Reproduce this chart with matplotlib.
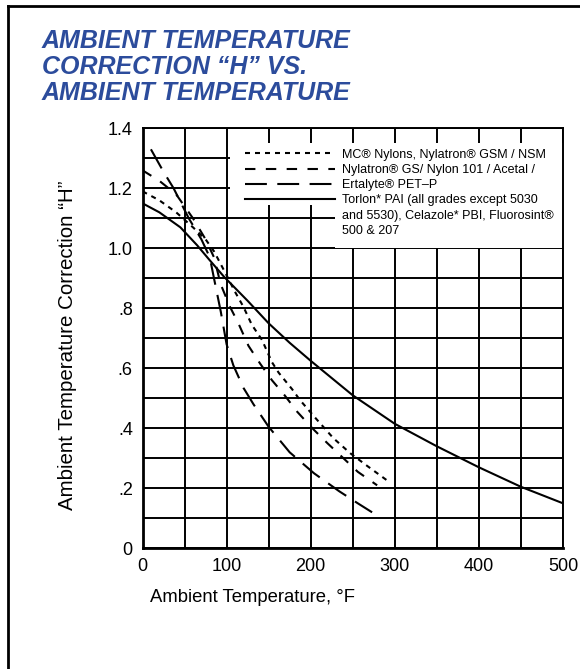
import numpy as np
import matplotlib
matplotlib.use("Agg")
import matplotlib.pyplot as plt
from matplotlib.lines import Line2D
from matplotlib.patches import Rectangle
from matplotlib.ticker import MultipleLocator, FixedLocator

plt.rcParams['font.family'] = ['Liberation Sans', 'DejaVu Sans']

# curves (temperature in °F, correction factor H)
mc_temp = [0, 20, 40, 60, 75, 85, 100, 110, 120, 130, 142, 154, 162, 178, 187, 207, 227, 247, 267, 290]
mc_h = [1.19, 1.16, 1.12, 1.07, 1.03, 0.99, 0.91, 0.855, 0.805, 0.745, 0.695, 0.62, 0.585, 0.53, 0.495, 0.43, 0.367, 0.317, 0.275, 0.228]

gs_temp = [0, 20, 40, 60, 75, 85, 93, 104, 114, 126, 140, 154, 169, 184, 202, 220, 239, 256, 279]
gs_h = [1.26, 1.225, 1.18, 1.1, 1.03, 0.97, 0.88, 0.805, 0.75, 0.675, 0.615, 0.56, 0.51, 0.455, 0.4, 0.35, 0.3, 0.255, 0.21]

pet_temp = [10, 25, 37, 55, 70, 80, 85, 93, 100, 108, 120, 132, 150, 175, 204, 234, 256, 273]
pet_h = [1.33, 1.255, 1.2, 1.1, 1.03, 0.97, 0.9, 0.79, 0.68, 0.61, 0.535, 0.48, 0.405, 0.32, 0.25, 0.19, 0.15, 0.12]

pai_temp = [0, 20, 45, 65, 80, 97, 125, 150, 175, 200, 250, 300, 350, 400, 450, 500]
pai_h = [1.15, 1.12, 1.07, 1.01, 0.96, 0.905, 0.825, 0.75, 0.685, 0.625, 0.51, 0.415, 0.34, 0.27, 0.205, 0.15]

labels = ["MC® Nylons, Nylatron® GSM / NSM",
          "Nylatron® GS/ Nylon 101 / Acetal /",
          "Ertalyte® PET–P",
          "Torlon* PAI (all grades except 5030",
          "and 5530), Celazole* PBI, Fluorosint®",
          "500 & 207"]

x_ticks = [0, 100, 200, 300, 400, 500]
y_ticks = [0, 0.2, 0.4, 0.6, 0.8, 1.0, 1.2, 1.4]
y_ticklabels = ["0", ".2", ".4", ".6", ".8", "1.0", "1.2", "1.4"]

title_color = "#2c4c9c"

fig = plt.figure(figsize=(5.8, 6.69), dpi=100)
ax = fig.add_axes([0.2457, 0.1804, 0.7250, 0.6278])

lw = 1.5
ax.plot(mc_temp, mc_h, color="black", lw=lw, dashes=(2.4, 2.4))
ax.plot(gs_temp, gs_h, color="black", lw=lw, dashes=(5.0, 5.0))
ax.plot(pet_temp, pet_h, color="black", lw=lw, dashes=(10.5, 5.0))
ax.plot(pai_temp, pai_h, color="black", lw=lw)

ax.set_xlim(0, 500)
ax.set_ylim(0, 1.4)
ax.xaxis.set_major_locator(FixedLocator(x_ticks))
ax.xaxis.set_minor_locator(MultipleLocator(50))
ax.yaxis.set_major_locator(FixedLocator(y_ticks))
ax.set_yticklabels(y_ticklabels)
ax.yaxis.set_minor_locator(MultipleLocator(0.1))
ax.grid(which="both", color="black", lw=1.4)
ax.set_axisbelow(True)
ax.tick_params(which="both", length=0, labelsize=13, pad=7)

for side in ["top", "right"]:
    ax.spines[side].set_linewidth(1.4)
for side in ["left", "bottom"]:
    ax.spines[side].set_linewidth(2.0)

ax.set_xlabel("Ambient Temperature, °F", fontsize=13.3, ha="left")
ax.xaxis.set_label_coords(0.018, -0.097)
ax.set_ylabel("Ambient Temperature Correction “H”", fontsize=14.8)
ax.yaxis.set_label_coords(-0.156, 0.484)

# white L-shaped backing behind the legend (samples block + text block)
ax.add_patch(Rectangle((0.208, 0.817), 0.252, 0.148, transform=ax.transAxes,
                       facecolor="white", edgecolor="none", zorder=1.5))
ax.add_patch(Rectangle((0.458, 0.715), 0.542, 0.250, transform=ax.transAxes,
                       facecolor="white", edgecolor="none", zorder=1.5))

# legend: four line samples, last label runs over three rows
handles = [Line2D([], [], color="black", lw=lw, dashes=(2.4, 2.4)),
           Line2D([], [], color="black", lw=lw, dashes=(5.0, 5.0)),
           Line2D([], [], color="black", lw=lw, dashes=(10.5, 5.0)),
           Line2D([], [], color="black", lw=lw),
           Line2D([], [], color="none"),
           Line2D([], [], color="none")]
leg = ax.legend(handles, labels, loc="upper right", bbox_to_anchor=(0.992, 0.965),
                borderaxespad=0, fontsize=9, frameon=False,
                handlelength=7.2, handletextpad=0.6, labelspacing=0.26,
                borderpad=0.45)
leg.set_zorder(5)

fig.text(0.072, 1 - 29 / 669, "AMBIENT TEMPERATURE\nCORRECTION “H” VS.\nAMBIENT TEMPERATURE",
         color=title_color, fontsize=18, fontweight="bold", fontstyle="italic",
         va="top", ha="left", linespacing=1.1)

# page frame, running off the right and bottom edges
fig.add_artist(Line2D([0.0138, 0.0138], [-0.1, 0.991], color="black", lw=2, transform=fig.transFigure))
fig.add_artist(Line2D([0.0138, 1.1], [0.991, 0.991], color="black", lw=2, transform=fig.transFigure))

fig.savefig("out.png", dpi=100)
